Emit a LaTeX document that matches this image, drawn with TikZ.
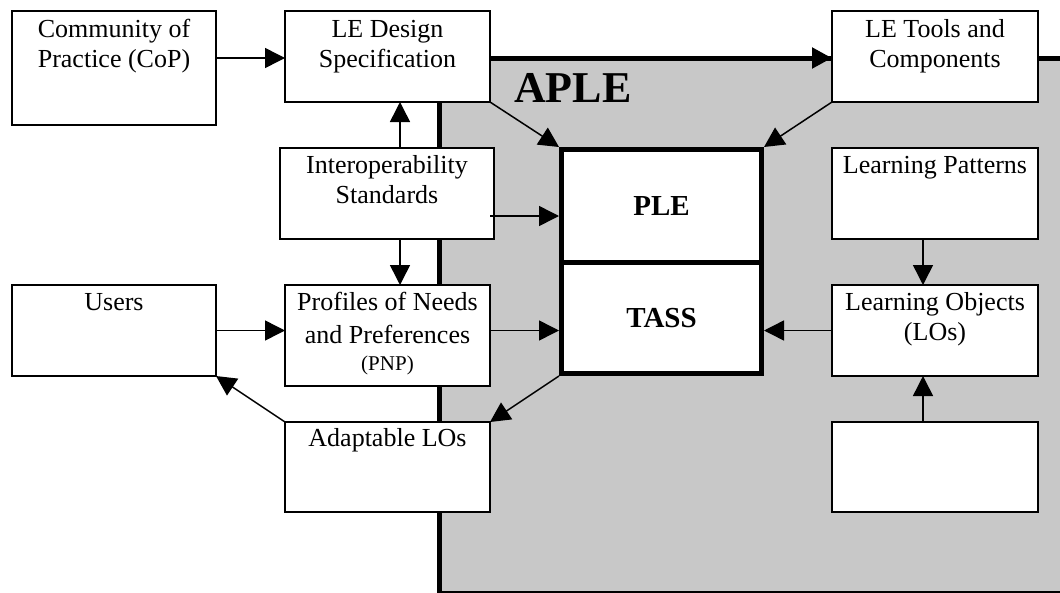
\documentclass[tikz,border=0pt]{standalone}
\usepackage{fontspec}
\setmainfont{Liberation Serif}
\usetikzlibrary{arrows.meta}
\definecolor{aplegray}{RGB}{200,200,200}
\begin{document}
\begin{tikzpicture}[x=1pt,y=-1pt,
  box/.style={draw, fill=white, line width=1.5pt, inner sep=0pt, outer sep=0pt, anchor=north west},
  corebox/.style={draw, fill=white, line width=5pt, inner sep=0pt, anchor=north west, font=\fontsize{29}{32}\selectfont\bfseries},
  txt/.style={inner sep=0pt, anchor=north, align=center, font=\fontsize{26}{30}\selectfont},
  arr/.style={line width=1.5pt, -{Triangle[length=20pt,width=20pt]}},
  bigarr/.style={line width=5pt, -{Triangle[length=20pt,width=20pt]}},
]
\path[use as bounding box, clip] (0,0) rectangle (1060,592);
\fill[white] (0,0) rectangle (1060,592);
% APLE region
\coordinate (apleNW) at (439,58);
\coordinate (toolsL) at (832,58);
\filldraw[fill=aplegray, line width=5pt] (apleNW) rectangle (1075,593);
\draw[bigarr] (apleNW) -- (toolsL);
\node[inner sep=0pt, anchor=base west, font=\fontsize{44}{50}\selectfont\bfseries] (apletitle) at (514,102) {APLE};

% boxes
\node[box, minimum width=204pt, minimum height=114pt] (cop) at (12,11) {};
\node[box, minimum width=205pt, minimum height=91pt] (design) at (285,11) {};
\node[box, minimum width=206pt, minimum height=91pt] (tools) at (832,11) {};
\node[box, minimum width=214pt, minimum height=91pt] (interop) at (280,148) {};
\node[box, minimum width=206pt, minimum height=91pt] (patterns) at (832,148) {};
\node[box, minimum width=204pt, minimum height=91pt] (users) at (12,285) {};
\node[box, minimum width=205pt, minimum height=101pt] (pnp) at (285,285) {};
\node[box, minimum width=206pt, minimum height=91pt] (los) at (832,285) {};
\node[box, minimum width=205pt, minimum height=90pt] (adapt) at (285,422) {};
\node[box, minimum width=206pt, minimum height=90pt] (blank) at (832,422) {};

% core boxes
\node[corebox, minimum width=200pt, minimum height=113pt] (ple) at (559,147) {PLE};
\node[corebox, minimum width=200pt, minimum height=111pt] (tass) at (559,260) {TASS};

% texts
\node[txt] (copT) at ([yshift=-5pt]cop.north) {\strut Community of\\Practice (CoP)};
\node[txt] (designT) at ([yshift=-5pt]design.north) {\strut LE Design\\Specification};
\node[txt] (toolsT) at ([yshift=-5pt]tools.north) {\strut LE Tools and\\Components};
\node[txt] (interopT) at ([yshift=-4pt]interop.north) {\strut Interoperability\\Standards};
\node[txt] (patternsT) at ([yshift=-4pt]patterns.north) {\strut Learning Patterns};
\node[txt] (usersT) at ([yshift=-4pt]users.north) {\strut Users};
\node[txt] (pnpT) at ([yshift=-4pt]pnp.north) {\strut Profiles of Needs\\[3pt]and Preferences\\[-3pt]{\fontsize{21}{27}\selectfont (PNP)}};
\node[txt] (losT) at ([yshift=-4pt]los.north) {\strut Learning Objects\\(LOs)};
\node[txt] (adaptT) at ([yshift=-3pt]adapt.north) {\strut Adaptable LOs};

% connectors
\draw[arr] (cop.east |- apleNW) -- (design.west |- apleNW);
\draw[arr] ([xshift=13pt]interop.north) -- ([xshift=13pt]interop.north |- design.south);
\draw[arr] ([xshift=13pt]interop.south) -- ([xshift=13pt]interop.south |- pnp.north);
\coordinate (ie) at ([xshift=-4pt,yshift=-22.5pt]interop.east);
\draw[arr] (ie) -- (ie -| ple.west);
\draw[arr] (design.south east) -- (ple.north west);
\draw[arr] (tools.south west) -- (ple.north east);
\draw[arr] (users.east) -- (users.east -| pnp.west);
\draw[arr] (pnp.east |- users.east) -- (tass.west |- users.east);
\draw[arr] (los.west) -- (los.west -| tass.east);
\draw[arr] (tass.south west) -- (adapt.north east);
\draw[arr] (adapt.north west) -- (users.south east);
\draw[arr] ([xshift=-12pt]patterns.south) -- ([xshift=-12pt]patterns.south |- los.north);
\draw[arr] ([xshift=-12pt]blank.north) -- ([xshift=-12pt]blank.north |- los.south);
\end{tikzpicture}
\end{document}
